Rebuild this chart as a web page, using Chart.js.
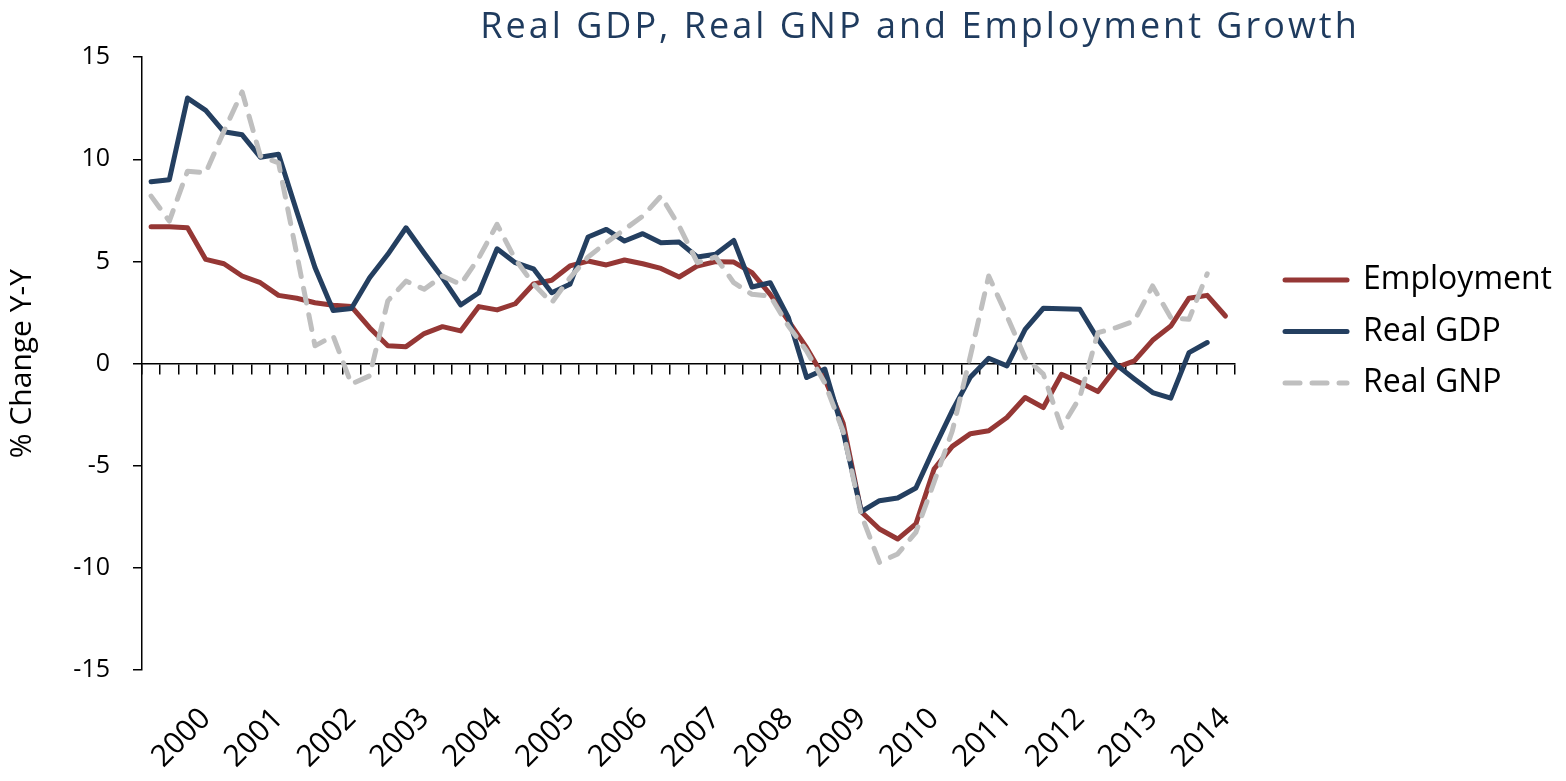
<!DOCTYPE html>
<html>
<head>
<meta charset="utf-8">
<script src="https://cdn.jsdelivr.net/npm/chart.js@4/dist/chart.umd.min.js"></script>
<style>
  html, body { margin: 0; padding: 0; background: #ffffff; }
  #wrap { width: 1566px; height: 781px; }
</style>
</head>
<body>
<div id="wrap"><canvas id="c" width="1566" height="781"></canvas></div>
<script>
// ---- data (quarterly, 1999 Q2 .. 2014 Q1) ----
const years = ['1999','2000','2001','2002','2003','2004','2005','2006','2007','2008','2009','2010','2011','2012','2013','2014'];
const quarters = ['Q1','Q2','Q3','Q4'];
const firstQuarterIndex = 1;   // series start in Q2 of the first year
const quarterCount = 60;

const employment = [
  6.7, 6.7, 6.65, 5.1, 4.89, 4.29, 3.96, 3.34, 3.2, 2.98,
  2.86, 2.79, 1.76, 0.87, 0.83, 1.47, 1.81, 1.6, 2.79, 2.63,
  2.93, 3.9, 4.08, 4.78, 5.02, 4.83, 5.07, 4.89, 4.66, 4.24,
  4.78, 4.99, 4.97, 4.45, 3.39, 2.09, 0.78, -0.75, -2.9, -7.25,
  -8.1, -8.59, -7.85, -5.16, -4.05, -3.43, -3.29, -2.64, -1.66, -2.15,
  -0.52, -0.93, -1.37, -0.2, 0.13, 1.14, 1.84, 3.2, 3.34, 2.33
];
const realGDP = [
  8.9, 9.0, 13.0, 12.4, 11.35, 11.2, 10.1, 10.25, 7.45, 4.7,
  2.6, 2.7, 4.2, 5.35, 6.65, 5.4, 4.2, 2.87, 3.47, 5.62,
  4.94, 4.64, 3.47, 3.88, 6.2, 6.57, 6.0, 6.36, 5.92, 5.95,
  5.22, 5.35, 6.03, 3.75, 3.96, 2.25, -0.68, -0.27, -3.3, -7.25,
  -6.71, -6.58, -6.09, -4.15, -2.3, -0.65, 0.26, -0.11, 1.68, 2.71,
  2.69, 2.66, 1.19, -0.05, -0.75, -1.42, -1.69, 0.54, 1.03, null
];
const realGNP = [
  8.2, 6.98, 9.42, 9.34, 11.38, 13.3, 10.16, 9.83, 5.35, 0.87,
  1.35, -1.0, -0.6, 3.07, 4.04, 3.64, 4.29, 3.88, 5.18, 6.82,
  5.1, 3.9, 2.98, 4.2, 5.22, 5.92, 6.57, 7.22, 8.2, 6.73,
  4.94, 5.22, 3.96, 3.39, 3.31, 1.84, 0.62, -0.95, -3.3, -7.4,
  -9.73, -9.32, -8.26, -5.8, -3.3, 0.4, 4.29, 2.33, 0.29, -0.52,
  -3.13, -1.66, 1.52, 1.76, 2.09, 3.8, 2.25, 2.17, 4.4, null
];
const yTicks = [-15, -10, -5, 0, 5, 10, 15];
const seriesNames = ['Employment', 'Real GDP', 'Real GNP'];
const titleText = 'Real GDP, Real GNP and Employment Growth';
const yTitleText = '% Change Y-Y';

// ---- categories built from the arrays above ----
const categories = [];
for (let k = 0; k < quarterCount; k++) {
  const q = firstQuarterIndex + k;
  categories.push(years[Math.floor(q / 4)] + ' ' + quarters[q % 4]);
}
const tickLabel = (i) => {
  const parts = categories[i].split(' ');
  return parts[1] === 'Q1' ? parts[0] : '';
};

const FONT = "'Open Sans', 'DejaVu Sans', sans-serif";

// shifts the title and gives it the wide letter spacing of the original
const titleNudge = {
  id: 'titleNudge',
  afterLayout(chart) {
    const t = chart.titleBlock;
    if (!t) return;
    t.left += 278;
    if (!t._lsPatched) {
      const orig = t.draw;
      t.draw = function (...args) {
        const c = this.ctx;
        c.save();
        c.letterSpacing = '3px';
        orig.apply(this, args);
        c.restore();
      };
      t._lsPatched = true;
    }
  }
};

new Chart(document.getElementById('c'), {
  type: 'line',
  data: {
    labels: categories,
    datasets: [
      { label: seriesNames[0], data: employment, borderColor: '#953735', backgroundColor: '#953735',
        borderWidth: 5, pointRadius: 0, tension: 0, borderJoinStyle: 'round', borderCapStyle: 'round', order: 3 },
      { label: seriesNames[1], data: realGDP, borderColor: '#243F60', backgroundColor: '#243F60',
        borderWidth: 5, pointRadius: 0, tension: 0, borderJoinStyle: 'round', borderCapStyle: 'round', order: 2 },
      { label: seriesNames[2], data: realGNP, borderColor: '#BFBFBF', backgroundColor: '#BFBFBF',
        borderWidth: 5, pointRadius: 0, tension: 0, borderJoinStyle: 'round', borderCapStyle: 'round',
        borderDash: [15, 12], order: 1 }
    ]
  },
  options: {
    responsive: false,
    animation: false,
    events: [],
    layout: { padding: { left: 0, right: 4, top: 0, bottom: 0 } },
    plugins: {
      tooltip: { enabled: false },
      title: {
        display: true,
        text: titleText,
        color: '#1F3B5E',
        font: { family: FONT, size: 36, weight: 'normal' },
        padding: { top: 6, bottom: 8 }
      },
      legend: {
        position: 'right',
        align: 'start',
        title: { display: true, text: '', padding: { top: 230, bottom: 0 } },
        labels: {
          color: '#000000',
          font: { family: FONT, size: 32 },
          usePointStyle: true,
          pointStyle: 'line',
          pointStyleWidth: 62,
          padding: 19.5,
          sort: (a, b) => a.datasetIndex - b.datasetIndex,
          generateLabels: (chart) => {
            const base = Chart.defaults.plugins.legend.labels.generateLabels(chart);
            return base.map((item) => {
              const ds = chart.data.datasets[item.datasetIndex];
              return Object.assign({}, item, {
                pointStyle: 'line',
                strokeStyle: ds.borderColor,
                fillStyle: ds.borderColor,
                lineWidth: ds.borderWidth,
                lineDash: ds.borderDash || [],
                lineDashOffset: 0,
                lineCap: 'round'
              });
            });
          }
        }
      }
    },
    scales: {
      x: {
        type: 'category',
        position: 'bottom',
        offset: true,
        grid: { display: false, drawTicks: false, offset: true },
        border: { display: false },
        ticks: {
          autoSkip: false,
          minRotation: 45,
          maxRotation: 45,
          padding: 31,
          color: '#000000',
          font: { family: FONT, size: 30 },
          callback: (v, i) => tickLabel(i)
        },
        afterFit: (s) => { s.height = 111; }
      },
      xz: {
        type: 'category',
        position: { y: 0 },
        offset: true,
        grid: { display: true, drawOnChartArea: false, drawTicks: true, tickLength: 10, offset: true,
                color: '#000000', lineWidth: 1.5 },
        border: { display: true, color: '#000000', width: 1.5 },
        ticks: { display: false }
      },
      y: {
        position: 'left',
        min: -15,
        max: 15,
        afterBuildTicks: (s) => { s.ticks = yTicks.map(v => ({ value: v })); },
        grid: { display: true, drawOnChartArea: false, drawTicks: true, tickLength: 9,
                color: '#000000', lineWidth: 1.5 },
        border: { display: true, color: '#000000', width: 1.5 },
        ticks: { color: '#000000', padding: 23, font: { family: FONT, size: 25 } },
        title: { display: true, text: yTitleText, color: '#000000',
                 font: { family: FONT, size: 30 }, padding: { top: 4, bottom: 0 } },
        afterFit: (s) => { s.width = 142; }
      },
      gap: {
        type: 'linear',
        position: 'right',
        display: false,
        afterFit: (s) => { s.width = 31; }
      }
    }
  },
  plugins: [titleNudge]
});
</script>
</body>
</html>
